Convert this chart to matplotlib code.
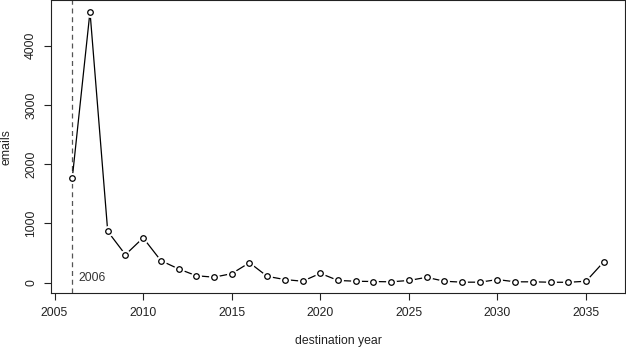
"""Emails by destination year, R base-graphics look."""
import matplotlib
matplotlib.use("Agg")
import matplotlib.pyplot as plt

plt.rcParams.update({
    "font.family": ["Liberation Sans", "DejaVu Sans"],
    "font.size": 8.8,
    "axes.linewidth": 0.8,
    "xtick.major.width": 0.8,
    "ytick.major.width": 0.8,
    "xtick.major.size": 5,
    "ytick.major.size": 5,
})

years = list(range(2006, 2037))
emails = [1765, 4575, 865, 470, 755, 370, 230, 115, 90, 150,
          335, 105, 50, 22, 155, 35, 22, 17, 12, 35,
          88, 22, 6, 6, 50, 12, 12, 5, 4, 22, 350]
x_ticks = [2005, 2010, 2015, 2020, 2025, 2030, 2035]
y_ticks = [0, 1000, 2000, 3000, 4000]
marker_year = 2006

fig = plt.figure(figsize=(6.26, 3.48), dpi=100)
ax = fig.add_axes([0.0815, 0.157, 0.917, 0.842])

# line with gaps at the points (type="b")
ax.plot(years, emails, color="black", linewidth=0.9, zorder=2)
ax.plot(years, emails, "o", markersize=6.8, color="white", zorder=3)
ax.plot(years, emails, "o", markersize=4.0, markerfacecolor="white",
        markeredgecolor="black", markeredgewidth=0.9, linestyle="none", zorder=4)

ax.axvline(marker_year, color="#555555", linestyle=(0, (4, 3)), linewidth=0.9, zorder=1)
ax.text(marker_year + 0.35, 70, str(marker_year), color="#333333",
        ha="left", va="center")

ax.set_xlim(2004.8, 2037.2)
ax.set_ylim(-183, 4766)
ax.set_xticks(x_ticks)
ax.set_yticks(y_ticks)
ax.set_yticklabels([str(v) for v in y_ticks], rotation=90, va="center")
ax.tick_params(axis="x", pad=5, colors="#222222")
ax.tick_params(axis="y", pad=5, colors="#222222")
for s in ax.spines.values():
    s.set_color("#222222")

ax.set_xlabel("destination year", color="#222222", va="center")
ax.set_ylabel("emails", color="#222222", va="center")
ax.xaxis.set_label_coords(0.5, -0.163)
ax.yaxis.set_label_coords(-0.077, 0.5)

fig.savefig("out.png", dpi=100)
